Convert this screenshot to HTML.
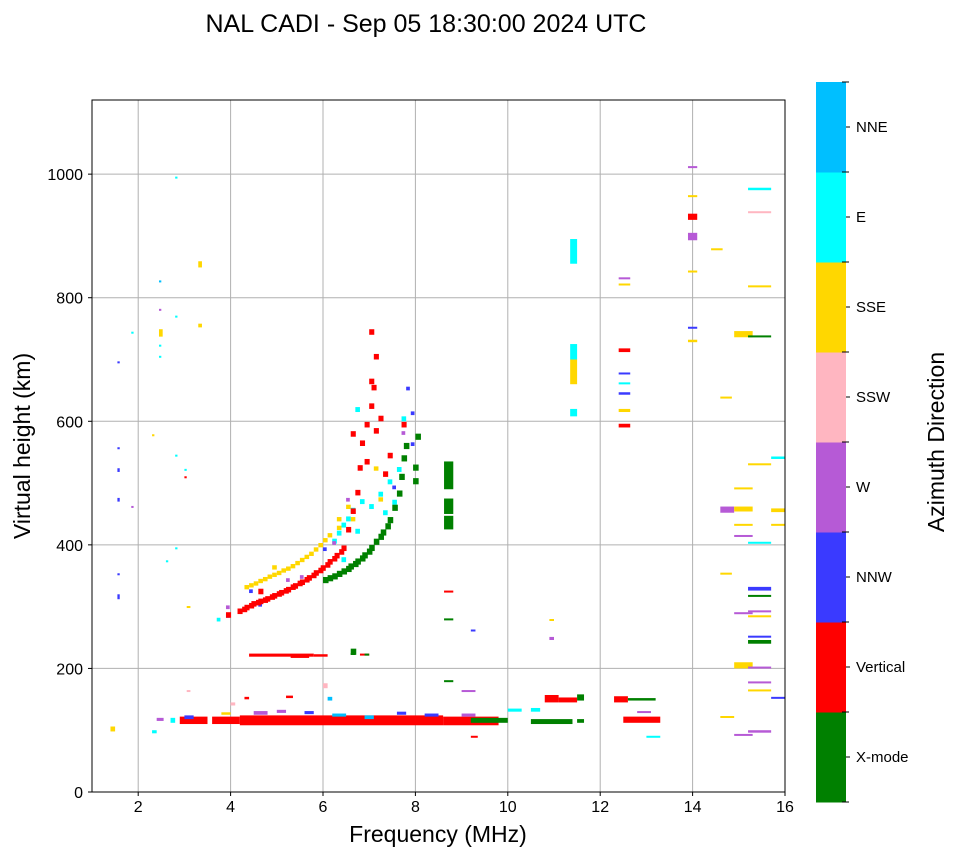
<!DOCTYPE html>
<html><head><meta charset="utf-8"><style>
body{margin:0;background:#fff;}
svg{display:block;font-family:"Liberation Sans","DejaVu Sans",sans-serif;}
</style></head><body>
<svg id="chart" width="958" height="857" xmlns="http://www.w3.org/2000/svg">
<text x="426" y="32" font-size="25" text-anchor="middle">NAL CADI - Sep 05 18:30:00 2024 UTC</text>
<g id="grid"></g>
<g id="marks"></g>
<rect x="92" y="100" width="693" height="692" fill="none" stroke="#000" stroke-width="1"/>
<g id="ticks"></g>
<text x="438" y="842" font-size="23" text-anchor="middle">Frequency (MHz)</text>
<text transform="translate(30,446) rotate(-90)" font-size="23" text-anchor="middle">Virtual height (km)</text>
<g id="cbar"></g>
<text transform="translate(944,442) rotate(-90)" font-size="23" text-anchor="middle">Azimuth Direction</text>
</svg>
<script>
const xTicks = [2,4,6,8,10,12,14,16];
const yTicks = [0,200,400,600,800,1000];
const dirNames = ["X-mode","Vertical","NNW","W","SSW","SSE","E","NNE"];
const dirColors = ["#008000","#ff0000","#3a3aff","#b65ad6","#ffb6c1","#ffd700","#00ffff","#00bfff"];
// each mark: [freqMHz, heightKm, dirIndex, spanKm, widthMHz]
const eLayerMarks = [[2.9,110,1,12,0.6],[3.6,110,1,12,0.6],[4.2,108,1,16,4.4],[8.6,108,1,14,1.2],[9.2,112,0,8,0.8],[10.5,110,0,8,0.9],[10.8,145,1,12,0.3],[11.1,145,1,8,0.4],[11.5,148,0,10,0.15],[12.3,145,1,10,0.3],[12.6,148,0,4,0.6],[12.5,112,1,10,0.8],[11.5,112,0,6,0.15],[4.5,125,3,6,0.3],[5,128,3,5,0.2],[5.6,126,2,5,0.2],[6.2,122,7,5,0.3],[7.6,125,2,5,0.2],[8.2,122,2,5,0.3],[9,122,3,5,0.3],[10,130,6,5,0.3],[10.5,130,6,6,0.2],[2.4,115,3,5,0.15],[1.4,98,5,8,0.1],[2.3,95,6,5,0.1],[2.7,112,6,8,0.1],[3.0,118,2,6,0.2],[3.8,125,5,4,0.2],[4.0,140,4,5,0.1],[4.3,150,1,4,0.1],[5.2,152,1,4,0.15],[6.1,148,7,6,0.1],[6.9,118,7,6,0.2],[9.2,88,1,3,0.15],[12.8,128,3,3,0.3],[13,88,6,3,0.3]];
const sporadicMarks = [[4.4,219,1,5,1.4],[5.3,217,1,6,0.4],[5.8,219,1,4,0.2],[6,219,1,4,0.1],[6.6,222,0,3,0.1],[6.8,221,1,3,0.2],[6.9,221,0,3,0.1],[6.0,168,4,8,0.1]];
const fRedTrace = [[4.15,288],[4.25,291],[4.3,294],[4.4,297],[4.45,300],[4.55,302],[4.6,304],[4.7,306],[4.75,308],[4.85,311],[4.9,313],[5.0,316],[5.05,318],[5.15,321],[5.2,323],[5.3,327],[5.35,329],[5.45,333],[5.5,335],[5.6,339],[5.65,342],[5.75,346],[5.8,350],[5.9,354],[5.95,358],[6.05,363],[6.1,368],[6.2,373],[6.25,378],[6.35,384],[6.4,390],[6.5,420],[6.6,450],[6.7,480],[6.75,520],[6.8,560],[6.9,590],[7.0,620],[7.05,650],[7.1,700],[7.0,740],[7.1,580],[7.2,600],[6.9,530],[7.3,510],[7.4,540],[6.6,575],[7.0,660],[3.9,282],[4.6,320],[7.7,590]];
const fGreenTrace = [[6.0,338],[6.1,341],[6.2,344],[6.3,348],[6.4,352],[6.5,356],[6.55,360],[6.65,364],[6.7,368],[6.8,373],[6.85,378],[6.95,384],[7.0,390],[7.1,400],[7.2,408],[7.25,415],[7.35,425],[7.4,435],[7.5,455],[7.6,478],[7.65,505],[7.7,535],[7.75,555],[7.95,520],[7.95,498],[8.0,570],[6.6,222]];
const fYellowTrace = [[4.3,328],[4.4,331],[4.5,334],[4.6,338],[4.7,341],[4.8,345],[4.9,348],[5.0,351],[5.1,355],[5.2,358],[5.3,362],[5.4,367],[5.5,372],[5.6,377],[5.7,382],[5.8,389],[5.9,396],[6.0,404],[6.1,412],[6.3,438],[6.5,458],[6.6,438],[6.3,424],[4.9,360],[7.1,520],[7.2,470]];
const fCyanTrace = [[6.2,402],[6.3,415],[6.4,428],[6.6,452],[6.8,466],[7.0,458],[7.2,478],[7.4,498],[7.6,518],[7.7,600],[6.5,438],[6.7,418],[7.3,448],[6.7,615],[7.5,465],[6.4,372]];
const fOtherMarks = [[4.6,300,2],[5.5,345,3],[6.0,390,2],[6.5,470,3],[7.7,578,3],[7.9,560,2],[7.5,490,2],[3.9,296,3],[3.7,276,6],[3.9,282,2],[4.4,322,2],[5.2,340,3],[6.2,400,3],[7.8,650,2],[7.9,610,2]];
const greenBlocks = [[8.62,425,0,22,0.2],[8.62,450,0,25,0.2],[8.62,490,0,45,0.2],[8.62,278,0,3,0.2],[8.62,323,1,3,0.2],[8.62,178,0,3,0.2],[9.2,260,2,3,0.1],[9.0,162,3,3,0.3],[10.9,246,3,5,0.1],[10.9,277,5,3,0.1]];
const highFreqMarks = [[11.35,855,6,40,0.15],[11.35,660,5,40,0.15],[11.35,700,6,25,0.15],[11.35,608,6,12,0.15],[12.4,590,1,6,0.25],[12.4,615,5,5,0.25],[12.4,643,2,4,0.25],[12.4,660,6,3,0.25],[12.4,676,2,3,0.25],[12.4,712,1,6,0.25],[12.4,820,5,3,0.25],[12.4,830,3,3,0.25],[13.9,926,1,10,0.2],[13.9,893,3,12,0.2],[13.9,963,5,3,0.2],[13.9,1010,3,3,0.2],[13.9,841,5,3,0.2],[13.9,728,5,4,0.2],[13.9,750,2,3,0.2],[14.4,877,5,3,0.25],[14.6,637,5,3,0.25],[14.6,452,3,10,0.3],[14.6,352,5,3,0.25],[14.6,120,5,3,0.3],[14.9,736,5,10,0.4],[14.9,490,5,3,0.4],[14.9,454,5,8,0.4],[14.9,431,5,3,0.4],[14.9,413,3,3,0.4],[14.9,288,3,3,0.4],[14.9,200,5,10,0.4],[14.9,91,3,3,0.4],[15.2,974,6,4,0.5],[15.2,937,4,3,0.5],[15.2,817,5,3,0.5],[15.2,736,0,3,0.5],[15.2,529,5,3,0.5],[15.2,402,6,3,0.5],[15.2,326,2,6,0.5],[15.2,316,0,3,0.5],[15.2,291,3,3,0.5],[15.2,283,5,3,0.5],[15.2,250,2,3,0.5],[15.2,240,0,6,0.5],[15.2,200,3,3,0.5],[15.2,176,3,3,0.5],[15.2,163,5,3,0.5],[15.2,96,3,4,0.5],[15.7,539,6,4,0.3],[15.7,453,5,6,0.3],[15.7,431,5,3,0.3],[15.7,151,2,3,0.3]];
const lowFreqMarks = [[1.55,694,2,3,0.05],[1.55,518,2,6,0.05],[1.55,470,2,6,0.05],[1.55,555,2,3,0.05],[1.55,351,2,3,0.05],[1.55,312,2,8,0.05],[1.85,460,3,3,0.05],[1.85,743,6,2,0.05],[2.45,825,7,3,0.05],[2.45,779,3,3,0.05],[2.45,737,5,12,0.08],[2.45,721,6,3,0.05],[2.45,703,6,3,0.05],[2.3,577,5,2,0.05],[2.8,994,6,2,0.05],[2.8,768,6,3,0.05],[2.8,543,6,3,0.05],[2.8,393,6,3,0.05],[2.6,373,6,2,0.05],[3.0,520,6,3,0.05],[3.0,508,1,3,0.05],[3.3,849,5,10,0.08],[3.3,752,5,6,0.08],[3.05,298,5,3,0.08],[3.05,162,4,3,0.08]];

const X0=92,X1=785,Y0=792,Y1=100;
const xMin=1,xMax=16,yMin=0,yMax=1120;
const sx=f=>X0+(f-xMin)/(xMax-xMin)*(X1-X0);
const sy=h=>Y0-(h-yMin)/(yMax-yMin)*(Y0-Y1);
const NS="http://www.w3.org/2000/svg";
function mk(tag,attrs,parent){const e=document.createElementNS(NS,tag);for(const k in attrs)e.setAttribute(k,attrs[k]);parent.appendChild(e);return e;}
const grid=document.getElementById('grid'),ticks=document.getElementById('ticks'),marks=document.getElementById('marks'),cbar=document.getElementById('cbar');
xTicks.forEach(t=>{
  const l=mk('line',{x1:sx(t),x2:sx(t),y1:Y1,y2:Y0,stroke:'#b0b0b0','stroke-width':1},grid);
  
  
  mk('line',{x1:sx(t),x2:sx(t),y1:Y0,y2:Y0+4,stroke:'#000'},ticks);
  const tx=mk('text',{x:sx(t),y:Y0+20,'font-size':16,'text-anchor':'middle'},ticks);tx.textContent=t;
  
  
});
yTicks.forEach(t=>{
  const l=mk('line',{x1:X0,x2:X1,y1:sy(t),y2:sy(t),stroke:'#b0b0b0','stroke-width':1},grid);
  
  
  mk('line',{x1:X0-4,x2:X0,y1:sy(t),y2:sy(t),stroke:'#000'},ticks);
  const tx=mk('text',{x:X0-9,y:sy(t)+6,'font-size':16,'text-anchor':'end'},ticks);tx.textContent=t;
  
  
});
function drawMark(f,h,d,s,w,name){
  const x=sx(f),x2=sx(f+w),y=sy(h+s),y2=sy(h);
  const r=mk('rect',{x:x,y:y,width:Math.max(1.5,x2-x),height:Math.max(2,y2-y),fill:dirColors[d]},marks);
  
  
}
[eLayerMarks,sporadicMarks,greenBlocks,highFreqMarks,lowFreqMarks].forEach(arr=>arr.forEach(m=>drawMark(m[0],m[1],m[2],m[3],m[4],'echo-'+dirNames[m[2]].toLowerCase())));
fYellowTrace.forEach(m=>drawMark(m[0],m[1],5,7,0.1,'echo-sse'));
fCyanTrace.forEach(m=>drawMark(m[0],m[1],6,8,0.1,'echo-e'));
fOtherMarks.forEach(m=>drawMark(m[0],m[1],m[2],6,0.08,'echo-'+dirNames[m[2]].toLowerCase()));
fRedTrace.forEach(m=>drawMark(m[0],m[1],1,9,0.11,'echo-vertical'));
fGreenTrace.forEach(m=>drawMark(m[0],m[1],0,10,0.12,'echo-x-mode'));
// colorbar
const CB_X=816,CB_W=30,CB_TOP=82,CB_BOT=802,seg=(CB_BOT-CB_TOP)/dirNames.length;
dirNames.forEach((n,i)=>{
  const y=CB_BOT-(i+1)*seg;
  const r=mk('rect',{x:CB_X,y:y,width:CB_W,height:seg+0.5,fill:dirColors[i]},cbar);
  
  
  mk('line',{x1:CB_X+CB_W,x2:CB_X+CB_W+4,y1:y+seg/2,y2:y+seg/2,stroke:'#000'},cbar);
  const t=mk('text',{x:CB_X+CB_W+10,y:y+seg/2+5,'font-size':15},cbar);t.textContent=n;
  
  
});
for(let i=0;i<=dirNames.length;i++){const y=CB_BOT-i*seg;mk('line',{x1:CB_X+CB_W-4,x2:CB_X+CB_W+3,y1:y,y2:y,stroke:'#000'},cbar);}
</script>
</body></html>
